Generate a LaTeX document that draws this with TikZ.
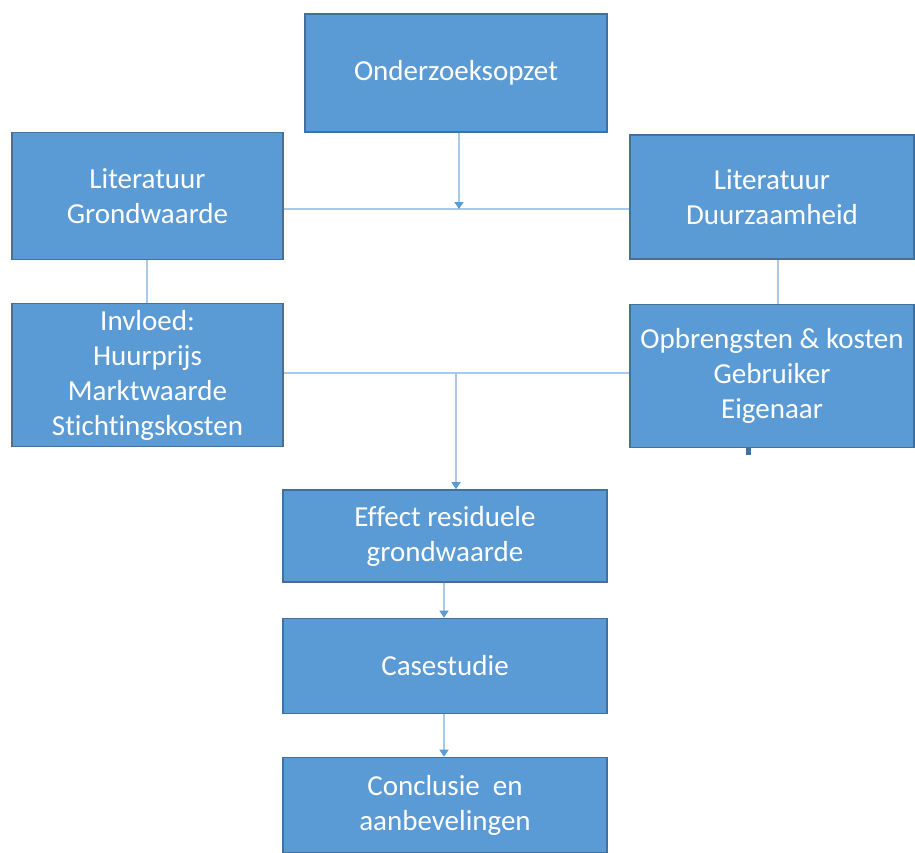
\documentclass[tikz,border=0pt]{standalone}
\usepackage{fontspec}
\setmainfont{Carlito}[Ligatures={NoCommon}]
\usetikzlibrary{arrows.meta, calc}
\definecolor{boxblue}{HTML}{5B9BD5}
\definecolor{boxedge}{HTML}{41719C}
\definecolor{linkblue}{HTML}{A9C9EA}
\begin{document}
\begin{tikzpicture}[x=1pt,y=-1pt,
		block/.style={fill=boxblue,draw=boxedge,line width=1.6pt,text=white,align=center,inner sep=0pt,
			font=\fontsize{29}{35}\selectfont},
		link/.style={draw=linkblue,line width=1.4pt},
		arr/.style={link,-{Triangle[length=7pt,width=9pt,color=boxblue]}}]
		\useasboundingbox (0,0) rectangle (915,852);
		\node[block,minimum width=302pt,minimum height=118pt] (onderzoek) at (456,73) {Onderzoeksopzet};
		\node[block,minimum width=271pt,minimum height=127pt] (litgrond) at (147.5,196) {Literatuur\\Grondwaarde};
		\node[block,minimum width=284pt,minimum height=124pt] (litduurz) at (772,197) {Literatuur\\Duurzaamheid};
		\node[block,minimum width=271pt,minimum height=143pt] (invloed) at (147.5,375) {Invloed:\\Huurprijs\\Marktwaarde\\Stichtingskosten};
		\node[block,minimum width=284pt,minimum height=143pt] (opbrengst) at (772,376) {Opbrengsten \& kosten\\Gebruiker\\Eigenaar};
		\node[block,minimum width=324pt,minimum height=92pt] (effect) at (445,536) {Effect residuele\\grondwaarde};
		\node[block,minimum width=324pt,minimum height=95pt] (casestudie) at (445,666) {Casestudie};
		\node[block,minimum width=324pt,minimum height=95pt] (conclusie) at (445,805) {Conclusie\ \ en\\aanbevelingen};
		\coordinate (split1) at (459,209);
		\coordinate (split2) at (456,373);
		\coordinate (stub) at (748,455);
		\draw[link] (litgrond.east |- split1) -- (litduurz.west |- split1);
		\draw[arr] (onderzoek.south -| split1) -- (split1);
		\draw[link] (litgrond.south -| 147,0) -- (invloed.north -| 147,0);
		\draw[link] (litduurz.south -| 778,0) -- (opbrengst.north -| 778,0);
		\draw[link] (invloed.east |- split2) -- (opbrengst.west |- split2);
		\draw[arr] (split2) -- (split2 |- effect.north);
		\draw[arr] (effect.south -| 444,0) -- (casestudie.north -| 444,0);
		\draw[arr] (casestudie.south -| 444,0) -- (conclusie.north -| 444,0);
		\draw[boxedge,line width=5pt] (opbrengst.south -| stub) -- (stub);
	\end{tikzpicture}
\end{document}
